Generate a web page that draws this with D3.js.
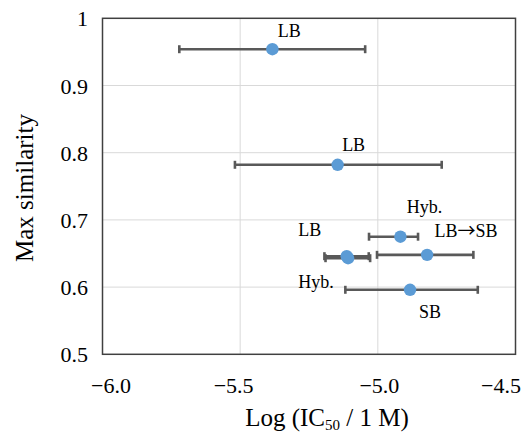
<!DOCTYPE html>
<html>
<head>
<meta charset="utf-8">
<script src="https://cdn.jsdelivr.net/npm/d3@7"></script>
<style>
  html, body { margin: 0; padding: 0; background: #fff; }
  svg { display: block; }
  text { font-family: "Liberation Serif", "Times New Roman", serif; fill: #000; }
</style>
</head>
<body>
<svg id="chart" width="525" height="435"></svg>
<script>
// ---- data ----
const labels   = ["LB", "LB", "Hyb.", "LB\u2192SB", "LB", "Hyb.", "SB"];
const logIC50  = [-5.383, -5.146, -4.918, -4.821, -5.113, -5.108, -4.883];
const errLow   = [-5.721, -5.519, -5.032, -5.003, -5.194, -5.190, -5.118];
const errHigh  = [-5.046, -4.768, -4.854, -4.653, -5.033, -5.028, -4.637];
const maxSim   = [0.954, 0.782, 0.675, 0.648, 0.646, 0.643, 0.596];
const xTicks   = [-6.0, -5.5, -5.0, -4.5];
const yTicks   = [0.5, 0.6, 0.7, 0.8, 0.9, 1];

// label placement offsets (px) relative to each point
const labelDx  = [17, 16, 24, 39, -37, -32, 20];
const labelDy  = [-12, -14, -24, -18, -20, 30, 28];

const svg = d3.select("#chart");
const m = { left: 102.5, right: 515.5, top: 18.3, bottom: 354.3 };

const x = d3.scaleLinear().domain([-6.0, -4.5]).range([m.left, m.right]);
const y = d3.scaleLinear().domain([0.5, 1]).range([m.bottom, m.top]);

// gridlines
const grid = svg.append("g");
grid.selectAll("line.v").data(xTicks.slice(1, -1)).join("line")
  .attr("x1", d => x(d)).attr("x2", d => x(d))
  .attr("y1", m.top).attr("y2", m.bottom)
  .attr("stroke", "#d9d9d9").attr("stroke-width", 1);
grid.selectAll("line.h").data(yTicks.slice(1, -1)).join("line")
  .attr("x1", m.left).attr("x2", m.right)
  .attr("y1", d => y(d)).attr("y2", d => y(d))
  .attr("stroke", "#d9d9d9").attr("stroke-width", 1);

// frame
svg.append("rect")
  .attr("x", m.left).attr("y", m.top)
  .attr("width", m.right - m.left).attr("height", m.bottom - m.top)
  .attr("fill", "none").attr("stroke", "#404040").attr("stroke-width", 1.5);

// axes (labels only)
const fmtX = d => (d < 0 ? "\u2212" : "") + Math.abs(d).toFixed(1);
const fmtY = d => d === 1 ? "1" : d.toFixed(1);
const xShift = { "-6": 8, "-5.5": -7, "-5": 1, "-4.5": -15 };

const xAxis = svg.append("g")
  .attr("transform", `translate(0,${m.bottom})`)
  .call(d3.axisBottom(x).tickValues(xTicks).tickFormat(fmtX).tickSize(0).tickPadding(0));
xAxis.select(".domain").remove();
xAxis.selectAll("text")
  .attr("y", 0).attr("dy", 0)
  .attr("transform", d => `translate(${xShift[String(d)] || 0},39)`)
  .style("font-size", "22px")
  .style("font-family", "'Liberation Serif', serif")
  .attr("fill", "#000");

const yAxis = svg.append("g")
  .attr("transform", `translate(88,0)`)
  .call(d3.axisLeft(y).tickValues(yTicks).tickFormat(fmtY).tickSize(0).tickPadding(0));
yAxis.select(".domain").remove();
yAxis.selectAll("text")
  .attr("x", 0).attr("dy", "7.5")
  .attr("text-anchor", "end")
  .style("font-size", "22px")
  .style("font-family", "'Liberation Serif', serif")
  .attr("fill", "#000");

// axis titles
svg.append("text")
  .attr("transform", `translate(33,188) rotate(-90)`)
  .attr("text-anchor", "middle")
  .style("font-size", "25px")
  .text("Max similarity");

const xt = svg.append("text")
  .attr("x", 327).attr("y", 426)
  .attr("text-anchor", "middle")
  .style("font-size", "25px");
xt.append("tspan").text("Log (IC");
xt.append("tspan").attr("dy", 4).style("font-size", "15px").text("50");
xt.append("tspan").attr("dy", -4).text(" / 1 M)");

// points and error bars
const idx = d3.range(labels.length);
const cap = 4;
const eb = svg.append("g").attr("stroke", "#595959").attr("stroke-width", 2.6);
idx.forEach(i => {
  const yy = y(maxSim[i]);
  eb.append("line").attr("x1", x(errLow[i])).attr("x2", x(errHigh[i]))
    .attr("y1", yy).attr("y2", yy);
  eb.append("line").attr("x1", x(errLow[i])).attr("x2", x(errLow[i]))
    .attr("y1", yy - cap).attr("y2", yy + cap);
  eb.append("line").attr("x1", x(errHigh[i])).attr("x2", x(errHigh[i]))
    .attr("y1", yy - cap).attr("y2", yy + cap);
});

svg.append("g").selectAll("circle").data(idx).join("circle")
  .attr("cx", i => x(logIC50[i]))
  .attr("cy", i => y(maxSim[i]))
  .attr("r", 6.2)
  .attr("fill", "#5b9bd5");

// data labels (arrow glyph drawn from a font that has a full-width arrow)
const lab = svg.append("g").selectAll("text").data(idx).join("text")
  .attr("x", i => x(logIC50[i]) + labelDx[i])
  .attr("y", i => y(maxSim[i]) + labelDy[i])
  .attr("text-anchor", "middle")
  .style("font-size", "18px");
lab.each(function(i) {
  const parts = labels[i].split("\u2192");
  const t = d3.select(this);
  parts.forEach((p, k) => {
    if (k > 0) t.append("tspan").style("font-family", "'Noto Sans CJK JP', 'DejaVu Serif', serif").text("\u2192");
    t.append("tspan").text(p);
  });
});
</script>
</body>
</html>
